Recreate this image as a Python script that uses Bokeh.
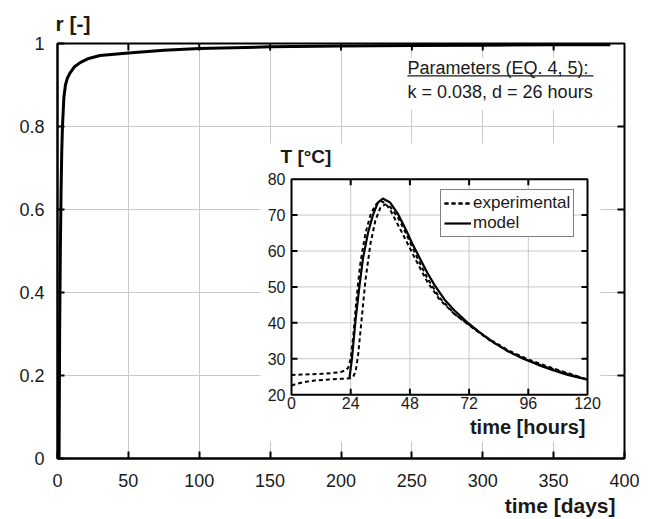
import numpy as np
from bokeh.plotting import figure
from bokeh.models import (Range1d, FixedTicker, Legend, LegendItem, Title)
from bokeh.core.properties import value
from bokeh.embed import file_html
from bokeh.resources import INLINE

# ---------------- data ----------------
# main curve: degree of hydration r [-] vs time [days]
days = [0, 1.1, 1.5, 2.0, 2.5, 3.0, 3.5, 4.5, 5.6, 7, 9, 12, 16, 22, 30, 40,
        50, 75, 100, 150, 200, 250, 300, 350, 390]
r_val = [0, 0.0, 0.30, 0.50, 0.64, 0.74, 0.80, 0.87, 0.90, 0.917, 0.93, 0.944,
         0.954, 0.964, 0.971, 0.974, 0.977, 0.984, 0.988, 0.992, 0.994, 0.995,
         0.996, 0.997, 0.997]

main_x_ticks = [0, 50, 100, 150, 200, 250, 300, 350, 400]
main_y_ticks = [0, 0.2, 0.4, 0.6, 0.8, 1.0]
main_y_labels = ["0", "0.2", "0.4", "0.6", "0.8", "1"]

# inset: temperature [°C] vs time [hours]
model_h = [23.5, 24.5, 26, 27.5, 29, 31, 33, 35, 37, 40, 43, 46, 49, 52, 55,
           58, 62, 66, 71, 76, 82, 88, 94, 100, 106, 112, 120]
model_T = [24.7, 30, 41, 50, 58, 65, 70, 73.5, 74.6, 73.5, 70.5, 66.5, 62,
           58, 54, 50.5, 46.5, 43.5, 40.3, 37.5, 34.5, 32, 30, 28.3, 26.8,
           25.5, 24.2]

expA_h = [0, 4, 8, 12, 16, 20, 22, 23, 24, 25, 26, 27, 28, 30, 32, 34, 36,
          38, 40, 43, 46, 50, 55, 60, 66, 72, 80, 88, 96, 104, 112, 120]
expA_T = [25.5, 25.6, 25.7, 25.8, 26, 26.3, 26.8, 27.5, 30, 36, 44, 51, 57,
          65, 70, 72.8, 74, 73.3, 71.5, 67.5, 63.5, 58, 51.5, 46.5, 42.5,
          39.5, 35.5, 32.3, 29.8, 27.8, 26, 24.2]

expB_h = [0, 2, 5, 10, 15, 20, 24, 25, 26, 27, 28, 29, 30, 32, 34, 36, 38,
          40, 43, 46, 50, 55, 60, 66, 72, 80, 88, 96, 104, 112, 120]
expB_T = [22.5, 23, 23.5, 24, 24.2, 24.4, 24.6, 25, 26.5, 31, 38, 45, 52, 62,
          68.5, 72, 73, 72.3, 69.5, 65.5, 59.5, 52.5, 47, 42.5, 39.3, 35.3,
          32, 29.5, 27.5, 25.8, 24.2]

inset_x_ticks = [0, 24, 48, 72, 96, 120]
inset_y_ticks = [20, 30, 40, 50, 60, 70, 80]

param_lines = ["Parameters (EQ. 4, 5):", "k = 0.038, d = 26 hours"]

# ---------------- layout constants ----------------
FONT = "Liberation Sans"
TXT = "#1a1a1a"
W, H = 654, 519
FL, FR, FT, FB = 57, 624, 43, 459      # main frame edges (px)
IL, IR, IT, IB = 291, 587, 179, 395    # inset frame edges (px)

# inset ranges mapped onto the full main frame
hx = (inset_x_ticks[-1] - inset_x_ticks[0]) / (IR - IL)
hy = (inset_y_ticks[-1] - inset_y_ticks[0]) / (IB - IT)
h_start = inset_x_ticks[0] - (IL - FL) * hx
h_end = inset_x_ticks[-1] + (FR - IR) * hx
t_start = inset_y_ticks[0] - (FB - IB) * hy
t_end = inset_y_ticks[-1] + (IT - FT) * hy

XMAX, YMAX = 400, 1.0
dx = XMAX / (FR - FL)
dy = YMAX / (FB - FT)


def mx(px):   # main-frame pixel -> days
    return (px - FL) * dx


def my(py):   # main-frame pixel -> r
    return YMAX - (py - FT) * dy


p = figure(width=W, height=H, x_range=Range1d(0, XMAX),
           y_range=Range1d(0, YMAX),
           output_backend="svg", toolbar_location=None,
           min_border_left=FL, min_border_right=W - FR,
           min_border_top=FT, min_border_bottom=H - FB)
p.extra_x_ranges = {"h": Range1d(h_start, h_end)}
p.extra_y_ranges = {"T": Range1d(t_start, t_end)}

p.outline_line_color = "black"
p.outline_line_width = 2
p.background_fill_color = "white"
p.border_fill_color = "white"

GRID = "#c9c9c9"
for ax in (p.xaxis[0], p.yaxis[0]):
    ax.axis_line_width = 2
    ax.major_tick_in = 7
    ax.major_tick_out = 0
    ax.major_tick_line_width = 2
    ax.minor_tick_line_color = None
    ax.major_label_text_font = FONT
    ax.major_label_text_font_size = "18px"
    ax.major_label_text_color = TXT
p.xaxis.ticker = FixedTicker(ticks=main_x_ticks)
p.yaxis.ticker = FixedTicker(ticks=main_y_ticks)
p.yaxis.major_label_overrides = {t: s for t, s in zip(main_y_ticks, main_y_labels)}
p.xaxis.major_label_standoff = 15
p.yaxis.major_label_standoff = 13

p.xgrid.grid_line_color = GRID
p.ygrid.grid_line_color = GRID
p.xgrid.ticker = FixedTicker(ticks=main_x_ticks)
p.ygrid.ticker = FixedTicker(ticks=main_y_ticks)

# inward ticks on the top and right frame edges
tx = main_x_ticks[1:-1]
ty = main_y_ticks[1:-1]
p.segment(x0=tx, y0=[YMAX] * len(tx), x1=tx, y1=[YMAX - 7 * dy] * len(tx),
          line_color="black", line_width=2)
p.segment(x0=[XMAX] * len(ty), y0=ty, x1=[XMAX - 7 * dx] * len(ty), y1=ty,
          line_color="black", line_width=2)

# main curve
p.line(days, r_val, line_color="black", line_width=3)

# axis titles of the main plot
p.add_layout(Title(text="r [-]", align="left", text_font=FONT,
                   text_font_size="21px", text_font_style="bold",
                   text_color=TXT, offset=-2, standoff=17), "above")
p.add_layout(Title(text="time [days]", align="right", text_font=FONT,
                   text_font_size="21px", text_font_style="bold",
                   text_color=TXT, offset=9, standoff=5), "below")

# parameters annotation (white backdrop hides the grid behind the text)
p.quad(left=[mx(404)], right=[mx(607)], top=[my(57)], bottom=[my(110)],
       fill_color="white", line_color=None)
p.text(x=[mx(407)] * 2, y=[my(68), my(92)], text=param_lines,
       text_font=value(FONT), text_font_size="18px",
       text_baseline="alphabetic", text_color=TXT)
p.segment(x0=[mx(407)], y0=[my(75.5)], x1=[mx(593)], y1=[my(75.5)],
          line_color=TXT, line_width=1.2)

# ---------------- inset ----------------
ik = dict(x_range_name="h", y_range_name="T")
pad_l, pad_r, pad_t, pad_b = 31 * hx, 13 * hx, 36 * hy, 47 * hy
p.quad(left=[inset_x_ticks[0] - pad_l], right=[inset_x_ticks[-1] + pad_r],
       bottom=[inset_y_ticks[0] - pad_b], top=[inset_y_ticks[-1] + pad_t],
       fill_color="white", line_color=None, **ik)

x0, x1 = inset_x_ticks[0], inset_x_ticks[-1]
y0, y1 = inset_y_ticks[0], inset_y_ticks[-1]
# grid
gx = inset_x_ticks[1:-1]
gy = inset_y_ticks[1:-1]
p.segment(x0=gx, y0=[y0] * len(gx), x1=gx, y1=[y1] * len(gx),
          line_color=GRID, line_width=1, **ik)
p.segment(x0=[x0] * len(gy), y0=gy, x1=[x1] * len(gy), y1=gy,
          line_color=GRID, line_width=1, **ik)

# curves
rA = p.line(expA_h, expA_T, line_color="black", line_width=2,
            line_dash="4 3", **ik)
rB = p.line(expB_h, expB_T, line_color="black", line_width=2,
            line_dash="4 3", **ik)
rM = p.line(model_h, model_T, line_color="black", line_width=2.2, **ik)

# ticks (inward)
tl_x, tl_y = 6 * hx, 6 * hy
p.segment(x0=gx, y0=[y0] * len(gx), x1=gx, y1=[y0 + tl_y] * len(gx),
          line_color="black", line_width=2, **ik)
p.segment(x0=gx, y0=[y1] * len(gx), x1=gx, y1=[y1 - tl_y] * len(gx),
          line_color="black", line_width=2, **ik)
p.segment(x0=[x0] * len(gy), y0=gy, x1=[x0 + tl_x] * len(gy), y1=gy,
          line_color="black", line_width=2, **ik)
p.segment(x0=[x1] * len(gy), y0=gy, x1=[x1 - tl_x] * len(gy), y1=gy,
          line_color="black", line_width=2, **ik)
# frame
p.rect(x=[(x0 + x1) / 2], y=[(y0 + y1) / 2], width=[x1 - x0], height=[y1 - y0],
       fill_color=None, line_color="black", line_width=2, **ik)

# tick labels
p.text(x=inset_x_ticks, y=[y0] * len(inset_x_ticks),
       text=[str(t) for t in inset_x_ticks], text_font=value(FONT),
       text_font_size="16px", text_align="center", text_baseline="top",
       y_offset=2, text_color=TXT, **ik)
p.text(x=[x0] * len(inset_y_ticks), y=inset_y_ticks,
       text=[str(t) for t in inset_y_ticks], text_font=value(FONT),
       text_font_size="16px", text_align="right", text_baseline="middle",
       x_offset=-6, text_color=TXT, **ik)
# axis titles
p.text(x=[x0], y=[y1], text=["T [°C]"], text_font=value(FONT),
       text_font_size="19px", text_font_style="bold", text_align="left",
       text_baseline="bottom", x_offset=-11, y_offset=-12, text_color=TXT,
       **ik)
p.text(x=[x1], y=[y0], text=["time [hours]"], text_font=value(FONT),
       text_font_size="20px", text_font_style="bold", text_align="right",
       text_baseline="top", y_offset=21, x_offset=-2, text_color=TXT, **ik)

legend = Legend(items=[LegendItem(label="experimental", renderers=[rA, rB]),
                       LegendItem(label="model", renderers=[rM])],
                location=(440 - FL, FB - 238),
                label_text_font=FONT, label_text_font_size="17px",
                label_text_color=TXT,
                glyph_width=27, glyph_height=18, label_height=18,
                label_standoff=2, padding=3, spacing=0, margin=0,
                border_line_color="black", border_line_width=1.5,
                background_fill_color="white", background_fill_alpha=1)
p.add_layout(legend)

open("out.html", "w").write(file_html(p, INLINE))
